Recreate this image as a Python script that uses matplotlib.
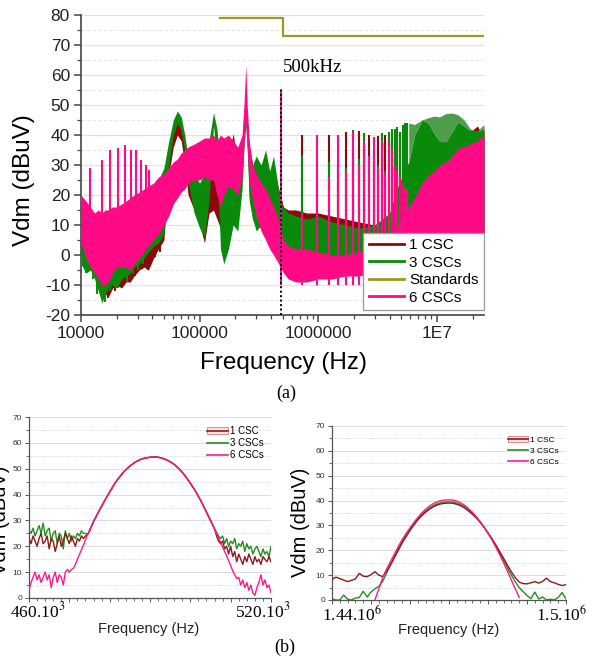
import numpy as np
import matplotlib
matplotlib.use('Agg')
import matplotlib.pyplot as plt
from matplotlib.lines import Line2D
from matplotlib.patches import Patch
from matplotlib.legend_handler import HandlerTuple
from matplotlib.ticker import MultipleLocator, FixedLocator, LogLocator, NullFormatter, FixedFormatter

plt.rcParams['font.family'] = ['Liberation Sans', 'DejaVu Sans']
plt.rcParams['mathtext.fontset'] = 'stix'
plt.rcParams['axes.unicode_minus'] = False

# ---------------- (a) Vdm spectrum, 10 kHz - 25 MHz ----------------
# envelope of each noisy trace: frequency (kHz), lower / upper level (dBuV)
freq_env_khz = [10, 11, 12, 13, 14, 15, 16, 17, 18.5, 20,
                22, 24, 26, 28, 31, 34, 37, 41, 45, 50,
                55, 60, 65, 70, 75, 80, 90, 100, 110, 120,
                131, 140, 150, 160, 175, 192, 210, 228, 238, 245,
                252, 262, 280, 300, 330, 360, 390, 420, 450, 480,
                510, 560, 650, 800, 1000, 1300, 1700, 2200, 3000, 4000,
                4600, 5200, 5800, 6500, 7500, 8500, 9500, 10500, 12000, 13500,
                15000, 17000, 19000, 20500, 22000, 23500, 25000]

red_hi = [16, 14, 13, 12, 12, 11, 11, 12, 12, 13,
          14, 15, 16, 17, 18, 19, 20, 22, 24, 27,
          35, 41, 44.5, 42, 36, 30, 26, 23, 22, 28,
          33, 30, 30, 28, 33, 40.5, 30, 38, 47, 52.5,
          46, 36, 30, 28, 29, 30, 27, 28, 24, 20,
          16, 15, 15, 14, 14, 13, 12, 11, 10, 13,
          20, 25, 30, 38, 43, 42, 40, 38, 38, 41,
          43, 42, 41, 42, 43, 41, 41.5]
red_lo = [1, -2, -3, -5, -7, -9, -13, -14, -11, -10,
          -11, -9, -9, -7, -5, -4, -5, -1, 2, 5,
          27, 36, 40, 38, 30, 20, 15, 10, 4, 14,
          15, 12, 9, 6, 5, 28, 15, 26, 40, 46,
          38, 20, 12, 10, 9, 8, 8, 7, 6, 4,
          2, 2, 2, 1, 1, 0, 0, 0, 0, 0,
          0, 0, 0, 0, 0, 0, 0, 0, 0, 0,
          0, 0, 0, 0, 0, 0, 0]

green_hi = [17, 14, 13, 12, 12, 11, 12, 12, 13, 14,
            15, 16, 17, 18, 19, 20, 21, 23, 25, 29,
            38, 45, 48, 46, 40, 32, 27, 24, 27, 38,
            47.5, 42, 30, 28, 34, 38, 34, 38, 44, 47,
            43, 36, 30, 33, 30, 35, 28, 33, 25, 18,
            16, 14, 13, 12, 13, 11, 10, 9, 10, 14,
            22, 27, 31, 40, 45, 44, 40.5, 38, 37.5, 41,
            44.5, 43, 41.5, 41.5, 41, 41.5, 42.5]
green_lo = [-3, -6, -5, -8, -12, -16, -13, -11, -10, -11,
            -8, -7, -6, -4, -3, -1, 1, 3, 4, 7,
            30, 40, 44, 42, 34, 24, 14, 9, 6, 18,
            43, 32, 2, -3, 2, 10, 8, 22, 38, 43,
            36, 18, 12, 8, 10, 7, 9, 6, 5, 3,
            1, 0, 0, 0, -1, -1, -1, -1, 0, 0,
            0, 0, 0, 0, 0, 0, 0, 0, 0, 0,
            0, 0, 0, 0, 0, 0, 0]

pink_hi = [20, 18, 16, 14, 15, 14, 15, 15, 16, 16,
           17, 18, 19, 20, 21, 22, 23, 24, 26, 27,
           29, 31, 32, 34, 35, 36, 37, 38, 39, 39,
           40, 38, 40, 39, 40, 38, 36, 40, 52, 63.5,
           50, 38, 30, 27, 24, 22, 19, 16, 13, 9,
           5, 3, 2, 2, 1, 0, 0, 1, 3, 6,
           9, 12, 16, 19, 24, 26.5, 28, 30, 31, 33,
           35.5, 36, 37, 37.5, 38, 39, 40]
pink_lo = [4, -1, -4, -6, -8, -10, -10, -9, -6, -4,
           -4, -4, -5, -3, -1, 1, 3, 5, 7, 10,
           13, 17, 19, 21, 22, 24, 25, 25, 26, 25,
           25, 20, 16, 20, 23, 22, 20, 26, 38, 45,
           35, 25, 18, 13, 8, 5, 2, 0, -2, -4,
           -6, -8, -9, -9, -8, -8, -7, -7, -6, -5,
           -5, -5, -5, -5, -5, -5, -5, -5, -5, -5,
           -5, -5, -5, -5, -5, -5, -5]

# tops of the dense 3 CSCs comb above 5.8 MHz (same grid, from index 62)
comb_top = [44, 43.5, 45, 45.8, 46.3, 46, 47.2, 47.3, 46.8, 45, 42.2, 41.5, 41.3, 42.5, 43.5]

# switching harmonics (kHz) and their peak levels
spk_khz = [490, 735, 980, 1225, 1470, 1715, 1960, 2205, 2450, 2695, 2940,
           3185, 3430, 3675, 3920, 4165, 4410, 4655, 4900, 5145, 5390, 5635]
spk_red = [18, 40, 26, 40, 30, 41, 35, 41.5, 36, 40, 35,
           39.7, 37, 40, 38, 39, 40, 41, 41, 40, 41, 41]
spk_green = [17, 33, 24, 31, 28, 29, 41.7, 32, 40.6, 33, 34,
             30, 40.6, 28, 41, 42, 42, 42.7, 41, 43.3, 44, 44]
spk_pink = [55, 14, 40, 26, 40, 28, 41, 30, 38, 33, 39.5,
            29, 38, 27, 38, 35, 30, 28, 26, 24, 22, 22]

# low-frequency comb of the 6 CSCs trace
low_spk_khz = [11.9, 14.9, 17.6, 20.4, 23.5, 26.3, 29.2, 32, 35, 37.8]
low_spk_pink = [29, 31.7, 35, 35.7, 36.7, 35, 35, 31.7, 30, 28.3]

# deepest notches of the 1 CSC / 3 CSCs traces below 50 kHz
green_dn_khz = [11, 12.6, 13.7, 15.9, 17.6, 18.6, 20.5, 22.5, 24.5, 27.5, 30.5, 33.5]
green_dn = [-6, -8, -13, -15.6, -12, -10, -11, -8, -9, -6, -5, -3]
red_dn_khz = [16.9, 19.3, 21, 24.9, 28.5, 32.6, 37, 42, 46]
red_dn = [-14.3, -12, -10.5, -8.9, -7, -4.5, -5, -0.7, 1]

# conducted emission limit
std_khz = [150, 500, 25000]
std_dbuv = [79, 73, 73]

# ---------------- (b) zoom around two harmonics ----------------
# left: 460 - 520 kHz, 0.5 kHz steps
b1_peak = [24.5, 26, 27.8, 29.6, 31.1, 32.6, 34.1, 35.5, 36.9, 38.3,
           39.7, 41, 42.3, 43.6, 44.8, 45.9, 46.9, 47.9, 48.8, 49.6,
           50.3, 51, 51.6, 52.2, 52.7, 53.1, 53.5, 53.8, 54, 54.2,
           54.3, 54.4, 54.5, 54.5, 54.5, 54.4, 54.3, 54.1, 53.8, 53.5,
           53.1, 52.7, 52.2, 51.7, 51, 50.3, 49.5, 48.6, 47.6, 46.6,
           45.5, 44.4, 43.2, 42, 40.7, 39.3, 37.9, 36.4, 34.8, 33.2,
           31.6, 30, 28.4, 26.7]
b1_red_left = [23, 21, 24, 22, 20, 23, 25, 21, 22, 24, 19, 23, 22, 18, 21,
               24, 20, 22, 25, 23, 21, 24, 22, 20, 23, 22, 24, 23, 24]
b1_red_right = [24, 22, 21, 22, 19, 20, 17, 20, 16, 18, 14, 17, 15, 13,
                16, 14, 17, 15, 13, 16, 14, 15, 13, 16, 15, 14, 16, 14]
b1_green_left = [26, 25, 27, 24, 26, 28, 25, 29, 24, 26, 27, 22, 25, 26, 21,
                 25, 24, 19, 26, 23, 25, 22, 24, 23, 25, 24, 26, 25, 25]
b1_green_right = [25.5, 24, 23, 24, 21, 23, 20, 22, 21, 23, 19, 21, 20, 22,
                  18, 21, 19, 20, 17, 19, 20, 18, 16, 19, 17, 18, 16, 20]
b1_pink_left = [3, 6, 8, 10, 7, 9, 6, 8, 10, 7, 9, 4, 8, 10, 6,
                9, 8, 5, 10, 11, 10, 11, 11.5, 13, 15, 16.8, 18.6, 20.5, 22.5]
b1_pink_right = [25, 23.3, 21.5, 19.8, 18, 16.3, 14.4, 12.5, 10.5, 9,
                 7.5, 8, 5, 7, 4, 6, 3, 5, 2, 1, 4, 6, 9, 5, 7, 4, 5, 2]

# right: 1440 - 1500 kHz, 1 kHz steps
b2_red = [8.3, 9.2, 8.6, 8, 7.4, 7.9, 8.5, 10.7, 9.6, 9.4, 10.2, 11.4, 10, 9.4,
          11.5, 14, 17, 20, 23, 25.5, 28, 30.2, 32.2, 33.9, 35.3, 36.5, 37.5, 38.2,
          38.7, 38.9, 39, 38.9, 38.5, 37.9, 37, 35.8, 34.5, 33, 31.2, 29.2, 27, 24.7,
          22.2, 19.5, 16.8, 14, 11.3, 9, 7.2,
          6.6, 6.5, 6.9, 7.4, 6.8, 7.5, 8.8, 7.4, 6.9, 6.3, 5.8, 6.2]
b2_green = [0.5, 0, 0, 2, 0.3, 0, 0.8, 1, 3.5, 1.2, 3.2, 4.5, 5.5, 7.5,
            10.8, 14.3, 17.5, 20.6, 23.5, 26, 28.4, 30.6, 32.6, 34.3, 35.8, 37, 38,
            38.7, 39.2, 39.4, 39.5, 39.4, 39, 38.4, 37.5, 36.3, 34.9, 33.3, 31.4,
            29.3, 27, 24.5, 21.8, 18.9, 15.9, 12.9, 10, 7.3,
            5, 3.4, 1.8, 0.5, 3.2, 0.4, 1.2, 0, 0.3, 0, 1, 3, 0.4]
b2_pink = [0, 4.5, 9, 12.5, 15.5, 18.5, 21.5, 24.3, 26.8, 29, 31.2, 33.2, 35,
           36.5, 37.8, 38.8, 39.5, 40, 40.2, 40.3, 40.2, 39.8, 39.1, 38.1, 36.8,
           35.3, 33.5, 31.5, 29.3, 26.8, 24.2, 21.3, 18.2, 15, 11.5, 8, 4.5, 1]

C_RED = '#8b0a0a'
C_GREEN = '#0a8a0a'
C_COMB = '#4c9e4c'
C_PINK = '#ff0a86'
C_STD = '#9a9a1e'

W, H = 599, 662


def box(x0, y0, x1, y1):
    return [x0 / W, 1 - y1 / H, (x1 - x0) / W, (y1 - y0) / H]


fig = plt.figure(figsize=(W / 100, H / 100), dpi=100)

# ---- panel (a) ----
ax = fig.add_axes(box(81, 15, 484, 315))
f_env = np.array(freq_env_khz) * 1e3
f_spk = np.array(spk_khz) * 1e3

ax.fill_between(f_env, red_lo, red_hi, color=C_RED, lw=0, zorder=2)
ax.vlines(f_spk, 0, spk_red, color=C_RED, lw=1.5, zorder=2)
ax.vlines(np.array(red_dn_khz) * 1e3, red_dn, 8, color=C_RED, lw=1.4, zorder=2)
ax.fill_between(f_env, green_lo, green_hi, color=C_GREEN, lw=0, zorder=3)
ax.fill_between(f_env[62:], green_hi[62:], comb_top, color=C_COMB, lw=0, zorder=3)
ax.vlines(f_spk, 0, spk_green, color=C_GREEN, lw=1.5, zorder=3)
ax.vlines(np.array(green_dn_khz) * 1e3, green_dn, 6, color=C_GREEN, lw=1.4, zorder=3)
ax.step(np.array(std_khz) * 1e3, std_dbuv, where='post', color=C_STD, lw=1.6, zorder=3)
ax.fill_between(f_env, pink_lo, pink_hi, color=C_PINK, lw=0, zorder=4)
ax.vlines(f_spk, -10, spk_pink, color=C_PINK, lw=1.5, zorder=4)
ax.vlines(np.array(low_spk_khz) * 1e3, 5, low_spk_pink, color=C_PINK, lw=1.5, zorder=4)
ax.vlines(490e3, -20, 55.5, colors='black', linestyles=(0, (1, 1.3)), lw=1.4, zorder=6)
ax.text(505e3, 62.5, '500kHz', family='Liberation Serif', fontsize=13.5,
        ha='left', va='center', zorder=6)

ax.set_xscale('log')
ax.set_xlim(1e4, 2.5e7)
ax.set_ylim(-20, 80)
ax.yaxis.set_major_locator(MultipleLocator(10))
ax.yaxis.set_minor_locator(MultipleLocator(5))
ax.xaxis.set_major_locator(FixedLocator([1e4, 1e5, 1e6, 1e7]))
ax.xaxis.set_major_formatter(FixedFormatter(['10000', '100000', '1000000', '1E7']))
ax.xaxis.set_minor_locator(LogLocator(base=10, subs=np.arange(2, 10)))
ax.xaxis.set_minor_formatter(NullFormatter())
ax.grid(axis='y', which='major', color='#e2e2e2', lw=0.9, zorder=0)
ax.grid(axis='y', which='minor', color='#e6e6e6', lw=0.8, ls=(0, (3, 2)), zorder=0)
ax.set_axisbelow(True)
for s in ['top', 'right']:
    ax.spines[s].set_visible(False)
for s in ['left', 'bottom']:
    ax.spines[s].set_color('#444444')
    ax.spines[s].set_linewidth(1.2)
ax.tick_params(which='major', direction='out', length=5, width=1.1, color='#444444',
               labelsize=12.5, labelcolor='#222222', pad=3)
ax.tick_params(which='minor', direction='out', length=3, width=0.9, color='#444444')

handles = [Line2D([], [], color=C_RED, lw=2),
           Line2D([], [], color=C_GREEN, lw=2),
           Line2D([], [], color=C_STD, lw=2),
           Line2D([], [], color=C_PINK, lw=2)]
leg = ax.legend(handles, ['1 CSC', '3 CSCs', 'Standards', '6 CSCs'], loc='lower right',
                bbox_to_anchor=(1.0, 0.017), borderaxespad=0, fontsize=11,
                handlelength=2.3, handletextpad=0.35, labelspacing=0.22,
                borderpad=0.35, fancybox=False, framealpha=1, edgecolor='#9a9a9a')
leg.get_frame().set_linewidth(0.9)
leg.set_zorder(10)

fig.text(24 / W, 1 - 180 / H, 'Vdm (dBuV)', rotation=90, fontsize=17.5,
         ha='center', va='center')
fig.text(283 / W, 1 - 363 / H, 'Frequency (Hz)', fontsize=17.5, ha='center', va='center')
fig.text(286 / W, 1 - 393 / H, '(a)', family='Liberation Serif', fontsize=13,
         ha='center', va='center')
fig.text(285 / W, 1 - 647 / H, '(b)', family='Liberation Serif', fontsize=13,
         ha='center', va='center')


# ---- panels (b) ----
def style_zoom(a, x0, x1):
    a.set_xlim(x0, x1)
    a.set_ylim(0, 70)
    a.yaxis.set_major_locator(MultipleLocator(10))
    a.yaxis.set_minor_locator(MultipleLocator(5))
    a.xaxis.set_major_locator(MultipleLocator(10))
    a.xaxis.set_minor_locator(MultipleLocator(2))
    a.xaxis.set_major_formatter(NullFormatter())
    a.grid(axis='y', which='major', color='#dddddd', lw=0.7, zorder=0)
    a.grid(axis='y', which='minor', color='#cccccc', lw=0.6, ls=(0, (1, 1.5)), zorder=0)
    a.set_axisbelow(True)
    for s in ['top', 'right']:
        a.spines[s].set_visible(False)
    for s in ['left', 'bottom']:
        a.spines[s].set_color('#555555')
        a.spines[s].set_linewidth(0.9)
    a.tick_params(which='major', direction='out', length=3, width=0.7, color='#555555',
                  labelsize=6, labelcolor='#333333', pad=2)
    a.tick_params(which='minor', direction='out', length=2, width=0.6, color='#555555')


b1 = fig.add_axes(box(29, 417, 271, 598))
f_b1 = np.linspace(460, 520, 121)
b1_red = b1_red_left + b1_peak + b1_red_right
b1_green = b1_green_left + b1_peak + b1_green_right
b1_pink = b1_pink_left + b1_peak + b1_pink_right
b1.plot(f_b1, b1_red, color='#8b1a1a', lw=1.0, zorder=3)
b1.plot(f_b1, b1_green, color='#1f8f1f', lw=1.0, zorder=2)
b1.plot(f_b1, b1_pink, color='#ff1a8c', lw=1.0, zorder=4)
style_zoom(b1, 460, 520)

b2 = fig.add_axes(box(332, 426, 566, 600))
f_b2 = np.linspace(1440, 1500, 61)
f_b2_pink = np.linspace(1451, 1488, 38)
b2.plot(f_b2, b2_red, color='#8b1a1a', lw=1.0, zorder=3)
b2.plot(f_b2, b2_green, color='#1f8f1f', lw=1.0, zorder=2)
b2.plot(f_b2_pink, b2_pink, color='#ff1a8c', lw=1.0, zorder=4)
style_zoom(b2, 1440, 1500)

for a, anchor, fs, hl, ls in [(b1, (0.736, 0.95), 7, 2.1, 0.2), (b2, (0.752, 0.94), 6, 2.4, 0.38)]:
    sel = (Patch(facecolor='#fde2e2', edgecolor='#e07a7a', lw=0.6),
           Line2D([], [], color='#8b1a1a', lw=1.2))
    hs = [sel, Line2D([], [], color='#1f8f1f', lw=1.2), Line2D([], [], color='#ff1a8c', lw=1.2)]
    a.legend(hs, ['1 CSC', '3 CSCs', '6 CSCs'], loc='upper left', bbox_to_anchor=anchor,
             borderaxespad=0, frameon=False, fontsize=fs, handlelength=hl,
             handletextpad=0.3, labelspacing=ls, borderpad=0,
             handler_map={tuple: HandlerTuple(ndivide=1)})

serif = dict(family='Liberation Serif', fontsize=12.5, ha='center', va='center')
fig.text(38 / W, 1 - 611 / H, r'460.10$^3$', **serif)
fig.text(263 / W, 1 - 611 / H, r'520.10$^3$', **serif)
fig.text(352 / W, 1 - 615 / H, r'1.44.10$^6$', **serif)
fig.text(562 / W, 1 - 615 / H, r'1.5.10$^6$', **serif)
fig.text(149 / W, 1 - 629 / H, 'Frequency (Hz)', fontsize=10.5, color='#222222',
         ha='center', va='center')
fig.text(449 / W, 1 - 630 / H, 'Frequency (Hz)', fontsize=10.5, color='#222222',
         ha='center', va='center')
fig.text(300 / W, 1 - 522 / H, 'Vdm (dBuV)', rotation=90, fontsize=14.5,
         ha='center', va='center')
# the left zoom panel's axis title runs off the figure edge
fig.text(1 / W, 1 - 520 / H, 'Vdm (dBuV)', rotation=90, fontsize=14.5,
         ha='center', va='center')

fig.savefig('out.png', dpi=100)
